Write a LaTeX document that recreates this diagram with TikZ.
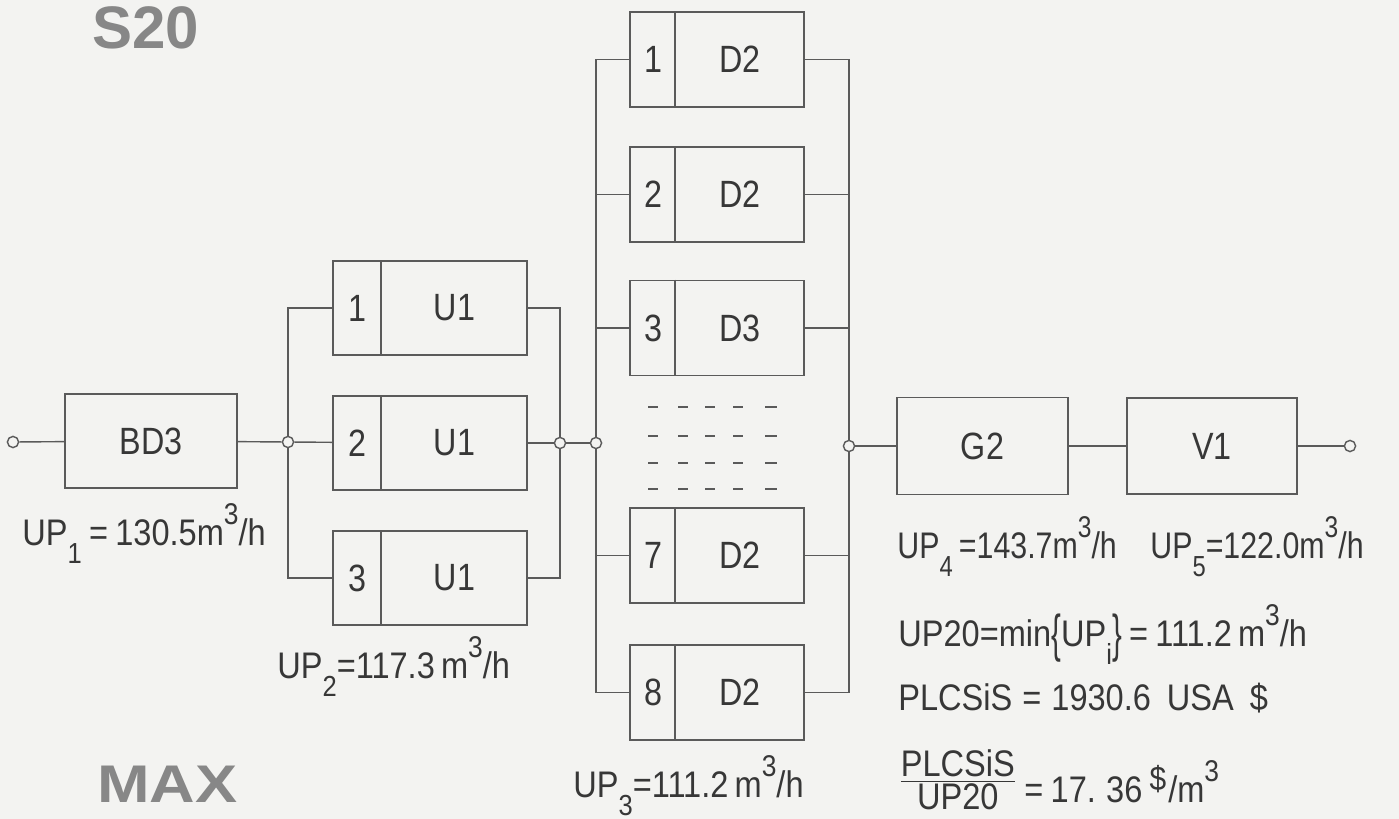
\documentclass[tikz,border=0pt]{standalone}
\usepackage{fontspec}
\setmainfont{Liberation Sans}
\newfontfamily\lblfont[FakeStretch=0.88, WordSpace=0.8]{Liberation Sans}
\newfontfamily\lblfontn[FakeStretch=0.82, WordSpace=0.8]{Liberation Sans}
\newfontfamily\boxfont[FakeStretch=0.85, WordSpace=0.6]{Liberation Sans}
\definecolor{bg}{RGB}{243,243,241}
\definecolor{ln}{RGB}{90,90,90}
\definecolor{tx}{RGB}{55,55,55}
\definecolor{big}{RGB}{135,135,135}
\newcommand{\sbs}[1]{\raisebox{-9pt}{\fontsize{14.5}{14.5}\selectfont #1}}
\newcommand{\sps}[1]{\raisebox{10.5pt}{\fontsize{15}{15}\selectfont #1}}
\newcommand{\brc}[1]{\raisebox{-2.5pt}{\scalebox{0.9}[1.4]{#1}}}
\begin{document}
\begin{tikzpicture}[x=0.5pt,y=-0.5pt,
  box/.style={draw=ln, line width=0.8pt, rectangle, inner sep=0pt},
  ubox/.style={box, minimum width=97pt, minimum height=47pt},
  dbox/.style={box, minimum width=87pt, minimum height=47.5pt},
  pin/.style={circle, draw=ln, line width=0.7pt, fill=bg, minimum size=5.6pt, inner sep=0pt},
  wire/.style={draw=ln, line width=0.7pt},
  dsh/.style={draw=ln, line width=1.1pt},
  boxtxt/.style={font=\boxfont\fontsize{19}{20}\selectfont, text=tx, inner sep=0pt},
  lbl/.style={font=\lblfont\fontsize{18.5}{20}\selectfont, text=tx, anchor=base west, inner sep=0pt},
  ttl/.style={font=\bfseries\fontsize{30}{30}\selectfont, text=big, inner sep=0pt, anchor=base west}]
\fill[bg] (0,0) rectangle (1399,819);
\useasboundingbox (0,0) rectangle (1399,819);

% titles
\node[ttl] (s20) at (92,48) {S20};
\node[ttl, font=\bfseries\fontsize{26.5}{27}\selectfont] (max) at (97,802) {\scalebox{1.19}[1]{MAX}};

% input and BD3
\node[pin] (in) at (13,442) {};
\node[box, minimum width=86pt, minimum height=47pt, boxtxt] (bd3) at (151,441) {BD3};
\node[pin] (j1) at (288,442) {};

% U1 boxes
\foreach \n/\y in {1/308, 2/443, 3/578} {
  \node[ubox] (u\n) at (430,\y) {};
  \draw[box] (u\n.north west) ++(49,0) -- ++(0,94);
  \node[boxtxt] (un\n) at (357.5,\y) {\n};
  \node[boxtxt] (ut\n) at (454.5,\y) {U1};
}
\node[pin] (j2) at (560,443) {};
\node[pin] (j3) at (596,443) {};

% D boxes
\foreach \n/\y/\t in {1/59.5/D2, 2/194.5/D2, 3/328/D3, 7/555.5/D2, 8/692.5/D2} {
  \node[dbox] (d\n) at (717,\y) {};
  \draw[box] (d\n.north west) ++(46,0) -- ++(0,95);
  \node[boxtxt] (dn\n) at (653,\y) {\n};
  \node[boxtxt] (dt\n) at (740,\y) {\t};
}
% dashed rows
\foreach \yy in {407,436,463,489} {
  \foreach \xa/\xb in {648/658, 678/688, 705/715, 733/743, 765/777} {
    \draw[dsh] (\xa,\yy) -- (\xb,\yy);
  }
}
\node[pin] (j4) at (849,446) {};

% G2, V1, output
\node[box, minimum width=85.5pt, minimum height=48.5pt, boxtxt] (g2) at (982.5,446) {G2};
\node[box, minimum width=85pt, minimum height=48pt, boxtxt] (v1) at (1212,446) {V1};
\node[pin] (out) at (1350,446) {};

% wires
\draw[wire] (in) -- (bd3);
\draw[wire] (bd3) -- (j1);
\draw[wire] (j1) -- (u2);
\draw[wire] (j1.north) |- (u1);
\draw[wire] (j1.south) |- (u3);
\draw[wire] (u1) -| (j2.north);
\draw[wire] (u2) -- (j2);
\draw[wire] (u3) -| (j2.south);
\draw[wire] (j2) -- (j3);
\draw[wire] (j3.north) |- (d1);
\draw[wire] (j3.north) |- (d2);
\draw[wire] (j3.north) |- (d3);
\draw[wire] (j3.south) |- (d7);
\draw[wire] (j3.south) |- (d8);
\draw[wire] (d1) -| (j4.north);
\draw[wire] (d2) -| (j4.north);
\draw[wire] (d3) -| (j4.north);
\draw[wire] (d7) -| (j4.south);
\draw[wire] (d8) -| (j4.south);
\draw[wire] (j4) -- (g2);
\draw[wire] (g2) -- (v1);
\draw[wire] (v1) -- (out);

% labels
\node[lbl] (up1) at (22,545) {UP\sbs{1} = 130.5m\sps{3}/h};
\node[lbl] (up2) at (277,678) {UP\sbs{2}=117.3\,m\sps{3}/h};
\node[lbl] (up3) at (573,797) {UP\sbs{3}=111.2\,m\sps{3}/h};
\node[lbl, font=\lblfontn\fontsize{18.5}{20}\selectfont] (up4) at (897,558) {UP\sbs{4}\,=143.7m\sps{3}/h};
\node[lbl, font=\lblfontn\fontsize{18.5}{20}\selectfont] (up5) at (1150,558) {UP\sbs{5}=122.0m\sps{3}/h};
\node[lbl] (up20) at (898,646) {UP20=min\brc{\{}UP\sbs{i}\brc{\}} = 111.2\,m\sps{3}/h};
\node[lbl] (plc) at (898,710) {PLCSiS\hspace{5pt}=\hspace{5pt}1930.6\hspace{8pt}USA\hspace{8pt}\$};
\node[lbl] (frac) at (898,802) {\raisebox{6pt}{${\mbox{\lblfont\fontsize{18.5}{18.5}\selectfont PLCSiS}\above0.8pt\mbox{\lblfont\fontsize{18.5}{18.5}\selectfont UP20}}$} = 17. 36 \raisebox{6pt}{\fontsize{17}{17}\selectfont\$}\kern1pt/m\sps{3}};
\end{tikzpicture}
\end{document}
